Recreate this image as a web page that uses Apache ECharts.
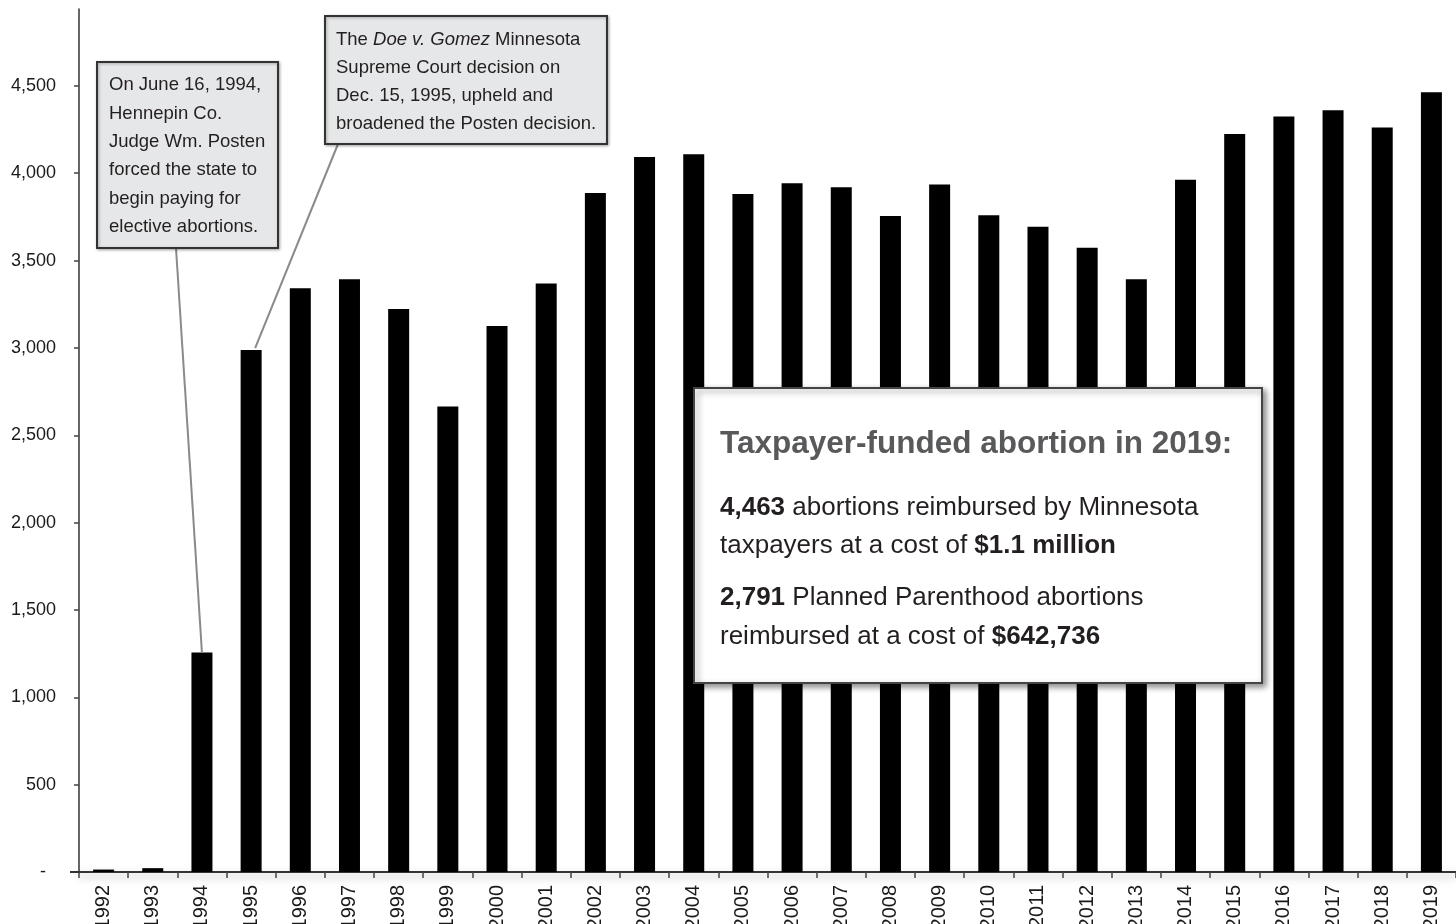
<!DOCTYPE html>
<html>
<head>
<meta charset="utf-8">
<script src="https://cdn.jsdelivr.net/npm/echarts@6/dist/echarts.min.js"></script>
<style>
  html, body { margin: 0; padding: 0; background: #ffffff; }
  #main { width: 1456px; height: 924px; }
</style>
</head>
<body>
<div id="main"></div>
<script>
const years = ['1992','1993','1994','1995','1996','1997','1998','1999','2000','2001','2002','2003','2004','2005','2006','2007','2008','2009','2010','2011','2012','2013','2014','2015','2016','2017','2018','2019'];
const abortions = [14, 22, 1256, 2988, 3341, 3393, 3223, 2664, 3126, 3368, 3887, 4093, 4108, 3881, 3942, 3919, 3755, 3936, 3759, 3694, 3574, 3393, 3962, 4224, 4325, 4361, 4262, 4463];
const yTicks = [0, 500, 1000, 1500, 2000, 2500, 3000, 3500, 4000, 4500];
const note1994 = 'On June 16, 1994,\nHennepin Co.\nJudge Wm. Posten\nforced the state to\nbegin paying for\nelective abortions.';
const note1995 = 'The {i|Doe v. Gomez} Minnesota\nSupreme Court decision on\nDec. 15, 1995, upheld and\nbroadened the Posten decision.';
const boxTitle = 'Taxpayer-funded abortion in 2019:';
const boxPara1 = '{b|4,463} abortions reimbursed by Minnesota\ntaxpayers at a cost of {b|$1.1 million}';
const boxPara2 = '{b|2,791} Planned Parenthood abortions\nreimbursed at a cost of {b|$642,736}';

const FONT = '"Liberation Sans", Arial, Helvetica, sans-serif';
const chart = echarts.init(document.getElementById('main'), null, { renderer: 'canvas' });

const option = {
  animation: false,
  backgroundColor: '#ffffff',
  textStyle: { fontFamily: FONT },
  grid: { left: 79, right: 0, top: 9, bottom: 52, containLabel: false, outerBoundsMode: 'none' },
  xAxis: {
    type: 'category',
    data: years,
    axisLine: { show: true, lineStyle: { color: '#333', width: 2, shadowColor: 'rgba(0,0,0,0.35)', shadowBlur: 8, shadowOffsetY: 4 } },
    axisTick: { show: true, length: 6, lineStyle: { color: '#444', width: 1.5 } },
    axisLabel: { rotate: 90, interval: 0, fontSize: 20, color: '#1a1a1a', margin: 13, fontFamily: FONT }
  },
  yAxis: {
    type: 'value',
    min: 0,
    max: 4940,
    splitLine: { show: false },
    axisLine: { show: true, lineStyle: { color: '#333', width: 1.5 } },
    axisTick: { show: true, length: 5, customValues: yTicks, lineStyle: { color: '#444', width: 1.5 } },
    axisLabel: {
      customValues: yTicks,
      fontSize: 18, color: '#1a1a1a', margin: 23, fontFamily: FONT,
      formatter: function (v) { return v === 0 ? '-  ' : Number(v).toLocaleString('en-US'); }
    }
  },
  series: [{
    type: 'bar',
    data: abortions,
    barWidth: 21,
    itemStyle: { color: '#000' }
  }]
};
chart.setOption(option);

const p1994 = chart.convertToPixel({ seriesIndex: 0 }, ['1994', abortions[2]]);
const p1995 = chart.convertToPixel({ seriesIndex: 0 }, ['1995', abortions[3]]);
const p0 = chart.convertToPixel({ seriesIndex: 0 }, ['1992', 0]);

chart.setOption({
  graphic: [
    { type: 'line', z: 5, shape: { x1: 70, y1: p0[1], x2: 80, y2: p0[1] }, style: { stroke: '#333', lineWidth: 2 } },
    { type: 'line', z: 10, shape: { x1: 176, y1: 248, x2: p1994[0], y2: p1994[1] }, style: { stroke: '#8a8a8a', lineWidth: 2 } },
    { type: 'line', z: 10, shape: { x1: 338, y1: 144, x2: p1995[0] + 4, y2: p1995[1] - 2 }, style: { stroke: '#8a8a8a', lineWidth: 2 } },
    { type: 'rect', z: 20, shape: { x: 97, y: 62, width: 181, height: 186 },
      style: { fill: '#e6e7e8', stroke: '#333', lineWidth: 2, shadowColor: 'rgba(0,0,0,0.3)', shadowBlur: 3, shadowOffsetX: 1, shadowOffsetY: 1 } },
    { type: 'text', z: 21, x: 109, y: 71,
      style: { text: note1994, font: '18.5px ' + FONT, fill: '#231f20', lineHeight: 28.4, align: 'left', verticalAlign: 'top' } },
    { type: 'rect', z: 20, shape: { x: 325, y: 16, width: 282, height: 128 },
      style: { fill: '#e6e7e8', stroke: '#333', lineWidth: 2, shadowColor: 'rgba(0,0,0,0.3)', shadowBlur: 3, shadowOffsetX: 1, shadowOffsetY: 1 } },
    { type: 'text', z: 21, x: 336, y: 26,
      style: { text: note1995, fontSize: 18.5, fontFamily: FONT, fill: '#231f20', lineHeight: 28, align: 'left', verticalAlign: 'top',
        rich: { i: { fontStyle: 'italic', fontSize: 18.5, fontFamily: FONT, fill: '#231f20', lineHeight: 28 } } } },
    { type: 'rect', z: 20, shape: { x: 694, y: 388, width: 568, height: 295 },
      style: { fill: '#ffffff', stroke: '#444', lineWidth: 2, shadowColor: 'rgba(0,0,0,0.45)', shadowBlur: 6, shadowOffsetX: 3, shadowOffsetY: 3 } },
    { type: 'text', z: 21, x: 720, y: 444,
      style: { text: boxTitle, font: 'bold 31.5px ' + FONT, fill: '#58595b', align: 'left', verticalAlign: 'middle' } },
    { type: 'text', z: 21, x: 720, y: 489,
      style: { text: boxPara1, fontSize: 26, fontFamily: FONT, fill: '#231f20', lineHeight: 38, align: 'left', verticalAlign: 'top',
        rich: { b: { fontWeight: 'bold', fontSize: 26, fontFamily: FONT, fill: '#231f20', lineHeight: 38 } } } },
    { type: 'text', z: 21, x: 720, y: 578,
      style: { text: boxPara2, fontSize: 26, fontFamily: FONT, fill: '#231f20', lineHeight: 39, align: 'left', verticalAlign: 'top',
        rich: { b: { fontWeight: 'bold', fontSize: 26, fontFamily: FONT, fill: '#231f20', lineHeight: 39 } } } }
  ]
});
</script>
</body>
</html>
